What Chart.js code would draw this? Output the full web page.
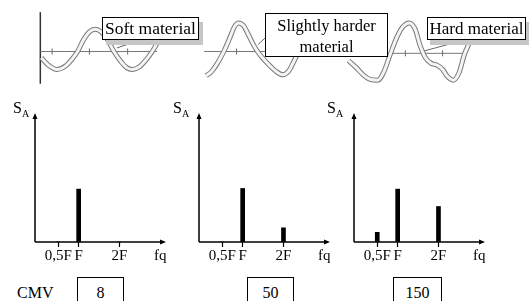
<!DOCTYPE html>
<html>
<head>
<meta charset="utf-8">
<script src="https://cdn.jsdelivr.net/npm/chart.js@4/dist/chart.umd.min.js"></script>
<style>
  body { margin: 0; width: 531px; height: 301px; overflow: hidden; background: #fff; position: relative;
         font-family: "Liberation Serif", "Times New Roman", Times, "DejaVu Serif", serif; color: #000; }
  canvas { position: absolute; }
  .lbl { position: absolute; white-space: nowrap; line-height: 16px; font-size: 16px; }
  .sub { font-size: 10px; position: relative; top: 4px; }
  .box { position: absolute; background: #fff; border: 1px solid #000; box-sizing: border-box; text-align: center; white-space: nowrap; z-index: 2; }
  .mat { font-size: 17.5px; line-height: 21px; }
  .cmv { font-size: 16px; line-height: 16px; padding-top: 7px; height: 30px; }
</style>
</head>
<body>
<canvas id="waves" width="531" height="95" style="left:0;top:0"></canvas>
<canvas id="specSoft" width="175" height="175" style="left:0;top:100px"></canvas>
<canvas id="specMedium" width="175" height="175" style="left:164px;top:100px"></canvas>
<canvas id="specHard" width="175" height="175" style="left:319px;top:100px"></canvas>

<div class="box mat" id="mat0" style="left:102px;top:17px;width:97px;height:23px;box-shadow:4px 5px 0 #c6c6c6"></div>
<div class="box mat" id="mat1" style="left:265px;top:13px;width:123px;height:44px;font-size:16.5px;padding-top:1px"></div>
<div class="box mat" id="mat2" style="left:427px;top:17px;width:99px;height:23px;font-size:17px;box-shadow:3px 5px 0 #c6c6c6"></div>

<div class="lbl" style="left:13px;top:100px">S<span class="sub">A</span></div>
<div class="lbl" style="left:173px;top:100px">S<span class="sub">A</span></div>
<div class="lbl" style="left:327px;top:100px">S<span class="sub">A</span></div>

<div class="lbl" style="left:17px;top:285px">CMV</div>
<div class="box cmv" id="cmv0" style="left:77px;top:277px;width:47px"></div>
<div class="box cmv" id="cmv1" style="left:247px;top:277px;width:47px"></div>
<div class="box cmv" id="cmv2" style="left:393px;top:277px;width:49px"></div>

<script>
// spectrum data (amplitude S_A at each harmonic)
const harmonicPos = [0.5, 1, 2];
const tickValues = [0.5, 1, 2, 3];
const tickLabels = ["0,5F", "F", "2F", "fq"];
const ampSoft = [0, 4.1, 0];
const ampMedium = [0, 4.15, 1.1];
const ampHard = [0.75, 4.1, 2.75];
const cmvValues = [8, 50, 150];
const materials = ["Soft material", "Slightly harder<br>material", "Hard material"];

// waveforms (x: time, y: displacement)
const waveSoft = [[3.7,-0.7],[4.4,-1.5],[5.3,-2.0],[6.2,-1.6],[6.8,-0.9],[7.4,0],[8.0,1.3],[8.6,2.2],[9.2,2.5],
  [9.8,2.2],[10.4,1.4],[11.1,0],[11.8,-1.1],[12.4,-1.8],[13.0,-2.0],[13.7,-1.7],[14.4,-0.9],[15.0,0],[15.5,0.9]];
const waveMedium = [[20.5,-2.7],[21.0,-2.3],[21.6,-1.4],[22.3,0],[22.9,1.5],[23.4,2.8],[23.8,3.2],[24.3,2.9],
  [24.8,1.9],[25.3,0.8],[25.8,-0.1],[26.4,-0.9],[27.0,-1.6],[27.6,-2.2],[28.3,-2.6],[28.9,-2.2],[29.4,-1.2],[29.8,-0.3]];
const waveHard = [[35.0,-1.0],[35.8,-1.8],[36.5,-2.6],[37.2,-3.1],[38.0,-3.2],[38.6,-2.3],[39.3,-0.2],[39.9,1.5],
  [40.5,2.7],[41.2,3.2],[41.8,2.5],[42.3,0.7],[42.8,-0.6],[43.4,-1.3],[44.0,-1.5],[44.6,-2.0],[45.1,-2.8],
  [45.7,-3.2],[46.3,-2.3],[46.8,-0.4],[47.3,0.9]];
const baseSoft = [[3.6,0],[15.5,0]];
const baseMedium = [[20.3,0],[30.0,0]];
const baseHard = [[38.3,-0.2],[46.8,-0.2]];
const ordinateSoft = [[3.6,4.4],[3.6,-3.6]];
const timeTicks = [[4.8,0],[8.6,0],[12.5,0],[23.6,0],[40.8,-0.2],[44.6,-0.2]];
const leaders = [[[11.4,0.4],[13.3,1.1]], [[25.8,0.8],[26.5,1.5]], [[42.5,0],[45.2,0.8]]];

const serif = "'Liberation Serif', 'Times New Roman', Times, 'DejaVu Serif', serif";

materials.forEach((m, i) => { document.getElementById("mat" + i).innerHTML = m; });
cmvValues.forEach((v, i) => { document.getElementById("cmv" + i).textContent = v; });

const pts = a => a.map(p => ({ x: p[0], y: p[1] }));
const line = (a, color, width) => ({
  data: pts(a), showLine: true, borderColor: color, borderWidth: width, pointRadius: 0,
  fill: false, cubicInterpolationMode: "monotone", clip: false
});

const waves = [waveSoft, waveMedium, waveHard];
new Chart(document.getElementById("waves"), {
  type: "scatter",
  data: {
    datasets: [
      ...waves.map(w => line(w, "#f4f4f4", 3)),
      ...waves.map(w => line(w, "#7a7a7a", 5)),
      line(baseSoft, "#777", 1), line(baseMedium, "#777", 1), line(baseHard, "#777", 1),
      line(ordinateSoft, "#333", 1.5),
      ...leaders.map(l => line(l, "#666", 1)),
      { data: pts(timeTicks), pointStyle: "line", rotation: 90, pointRadius: 3, borderColor: "#666", borderWidth: 1, showLine: false }
    ]
  },
  options: {
    responsive: false, animation: false, devicePixelRatio: 1,
    layout: { padding: 0 },
    plugins: { legend: { display: false }, tooltip: { enabled: false } },
    scales: {
      x: { display: false, min: 0, max: 53.1 },
      y: { display: false, min: -4.3, max: 5.2 }
    }
  }
});

// axes with arrow heads
const arrowAxes = {
  id: "arrowAxes",
  beforeDatasetsDraw(chart) {
    const { ctx, chartArea: a } = chart;
    ctx.save();
    ctx.strokeStyle = "#000";
    ctx.fillStyle = "#000";
    ctx.lineWidth = 1.5;
    ctx.beginPath();
    ctx.moveTo(a.left, a.bottom); ctx.lineTo(a.right - 4, a.bottom);
    ctx.moveTo(a.left, a.bottom); ctx.lineTo(a.left, a.top + 4);
    ctx.stroke();
    ctx.beginPath();
    ctx.moveTo(a.right, a.bottom); ctx.lineTo(a.right - 6, a.bottom - 2.5); ctx.lineTo(a.right - 6, a.bottom + 2.5); ctx.closePath();
    ctx.moveTo(a.left, a.top); ctx.lineTo(a.left - 2.5, a.top + 6); ctx.lineTo(a.left + 2.5, a.top + 6); ctx.closePath();
    ctx.fill();
    ctx.restore();
  }
};

function spectrum(id, amps) {
  return new Chart(document.getElementById(id), {
    type: "bar",
    data: {
      datasets: [{
        data: harmonicPos.map((h, i) => ({ x: h, y: amps[i] })),
        backgroundColor: "#000", borderWidth: 0, barThickness: 4
      }]
    },
    options: {
      responsive: false, animation: false, devicePixelRatio: 1,
      layout: { padding: { left: 35, right: 9, top: 13, bottom: 0 } },
      plugins: { legend: { display: false }, tooltip: { enabled: false } },
      scales: {
        x: {
          type: "linear", min: -0.07, max: 3.14, offset: false,
          afterBuildTicks: s => { s.ticks = tickValues.map(v => ({ value: v })); },
          afterFit: s => { s.height = 33; },
          ticks: {
            callback: (v, i) => tickLabels[i], color: "#000", padding: 2, autoSkip: false, maxRotation: 0,
            font: { family: serif, size: 15, lineHeight: 1 }
          },
          grid: {
            offset: false, drawOnChartArea: false, tickLength: 5, tickWidth: 1.2,
            tickColor: c => (c.tick && c.tick.value === 3 ? "rgba(0,0,0,0)" : "#000")
          },
          border: { display: false }
        },
        y: { display: false, min: 0, max: 10 }
      }
    },
    plugins: [arrowAxes]
  });
}

spectrum("specSoft", ampSoft);
spectrum("specMedium", ampMedium);
spectrum("specHard", ampHard);
</script>
</body>
</html>
